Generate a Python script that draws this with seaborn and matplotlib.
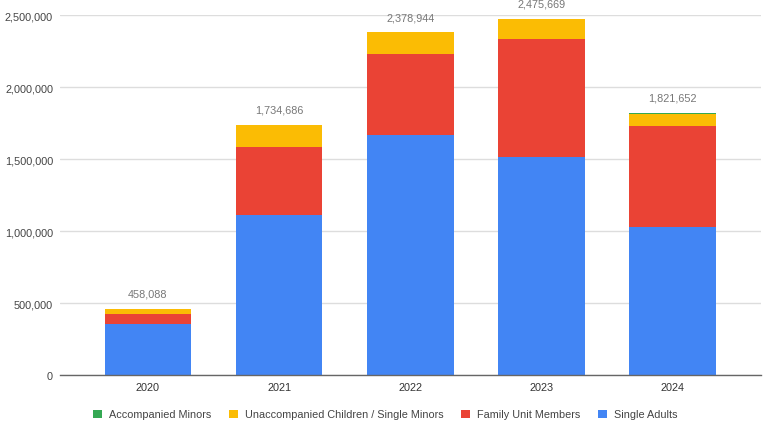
import matplotlib
matplotlib.use("Agg")
import matplotlib.pyplot as plt
import seaborn as sns
import pandas as pd
import numpy as np
from matplotlib.patches import Patch
from matplotlib.ticker import FuncFormatter

years = ["2020", "2021", "2022", "2023", "2024"]
single_adults = [355000, 1108000, 1666800, 1517000, 1027000]
family_units = [70000, 478000, 560000, 818000, 702000]
unaccompanied = [33000, 148000, 152000, 140000, 86000]
accompanied = [88, 686, 144, 669, 6652]
totals = [458088, 1734686, 2378944, 2475669, 1821652]

series_names = ["Accompanied Minors", "Unaccompanied Children / Single Minors",
                "Family Unit Members", "Single Adults"]
colors = {"Accompanied Minors": "#34A853",
          "Unaccompanied Children / Single Minors": "#FBBC04",
          "Family Unit Members": "#EA4335",
          "Single Adults": "#4285F4"}

sns.set_theme(style="white")
plt.rcParams['font.family'] = ['Liberation Sans', 'DejaVu Sans']

df = pd.DataFrame({"year": years, "Single Adults": single_adults,
                   "Family Unit Members": family_units,
                   "Unaccompanied Children / Single Minors": unaccompanied,
                   "Accompanied Minors": accompanied})
stack_order = ["Single Adults", "Family Unit Members",
               "Unaccompanied Children / Single Minors", "Accompanied Minors"]
cum = df[stack_order].cumsum(axis=1)

fig = plt.figure(figsize=(7.63, 4.27), dpi=100)
ax = fig.add_axes([0.0786, 0.1194, 0.9184, 0.8431])

# draw from the top of the stack down so each layer overlays the previous
for name in reversed(stack_order):
    sns.barplot(x=df["year"], y=cum[name], color=colors[name], ax=ax,
                width=0.66, linewidth=0, saturation=1, zorder=2)

ax.set_xlim(-0.67, 4.67)
ax.set_ylim(0, 2500000)
ax.set_yticks([0, 500000, 1000000, 1500000, 2000000, 2500000])
ax.yaxis.set_major_formatter(FuncFormatter(lambda v, p: f"{int(v):,}"))
ax.grid(axis="y", color="#dddddd", linewidth=1, zorder=0)
ax.set_axisbelow(True)
for s in ["top", "right", "left"]:
    ax.spines[s].set_visible(False)
ax.spines["bottom"].set_color("#666666")
ax.spines["bottom"].set_linewidth(1)
ax.tick_params(axis="y", length=0, pad=5, labelsize=7.8, labelcolor="#444444")
ax.tick_params(axis="x", length=0, pad=5, labelsize=7.8, labelcolor="#333333")
ax.set_xlabel("")
ax.set_ylabel("")

for i, t in enumerate(totals):
    ax.annotate(f"{t:,}", xy=(i, t), xytext=(0, 7.5), textcoords="offset points",
                ha="center", va="bottom", fontsize=7.8, color="#777777")

handles = [Patch(facecolor=colors[n], edgecolor="none", label=n) for n in series_names]
fig.legend(handles=handles, loc="center", bbox_to_anchor=(0.505, 0.027), ncol=4,
           frameon=False, fontsize=7.8, handlelength=0.8, handleheight=0.8,
           handletextpad=0.7, columnspacing=1.6, labelcolor="#444444")

fig.savefig("out.png", dpi=100)
